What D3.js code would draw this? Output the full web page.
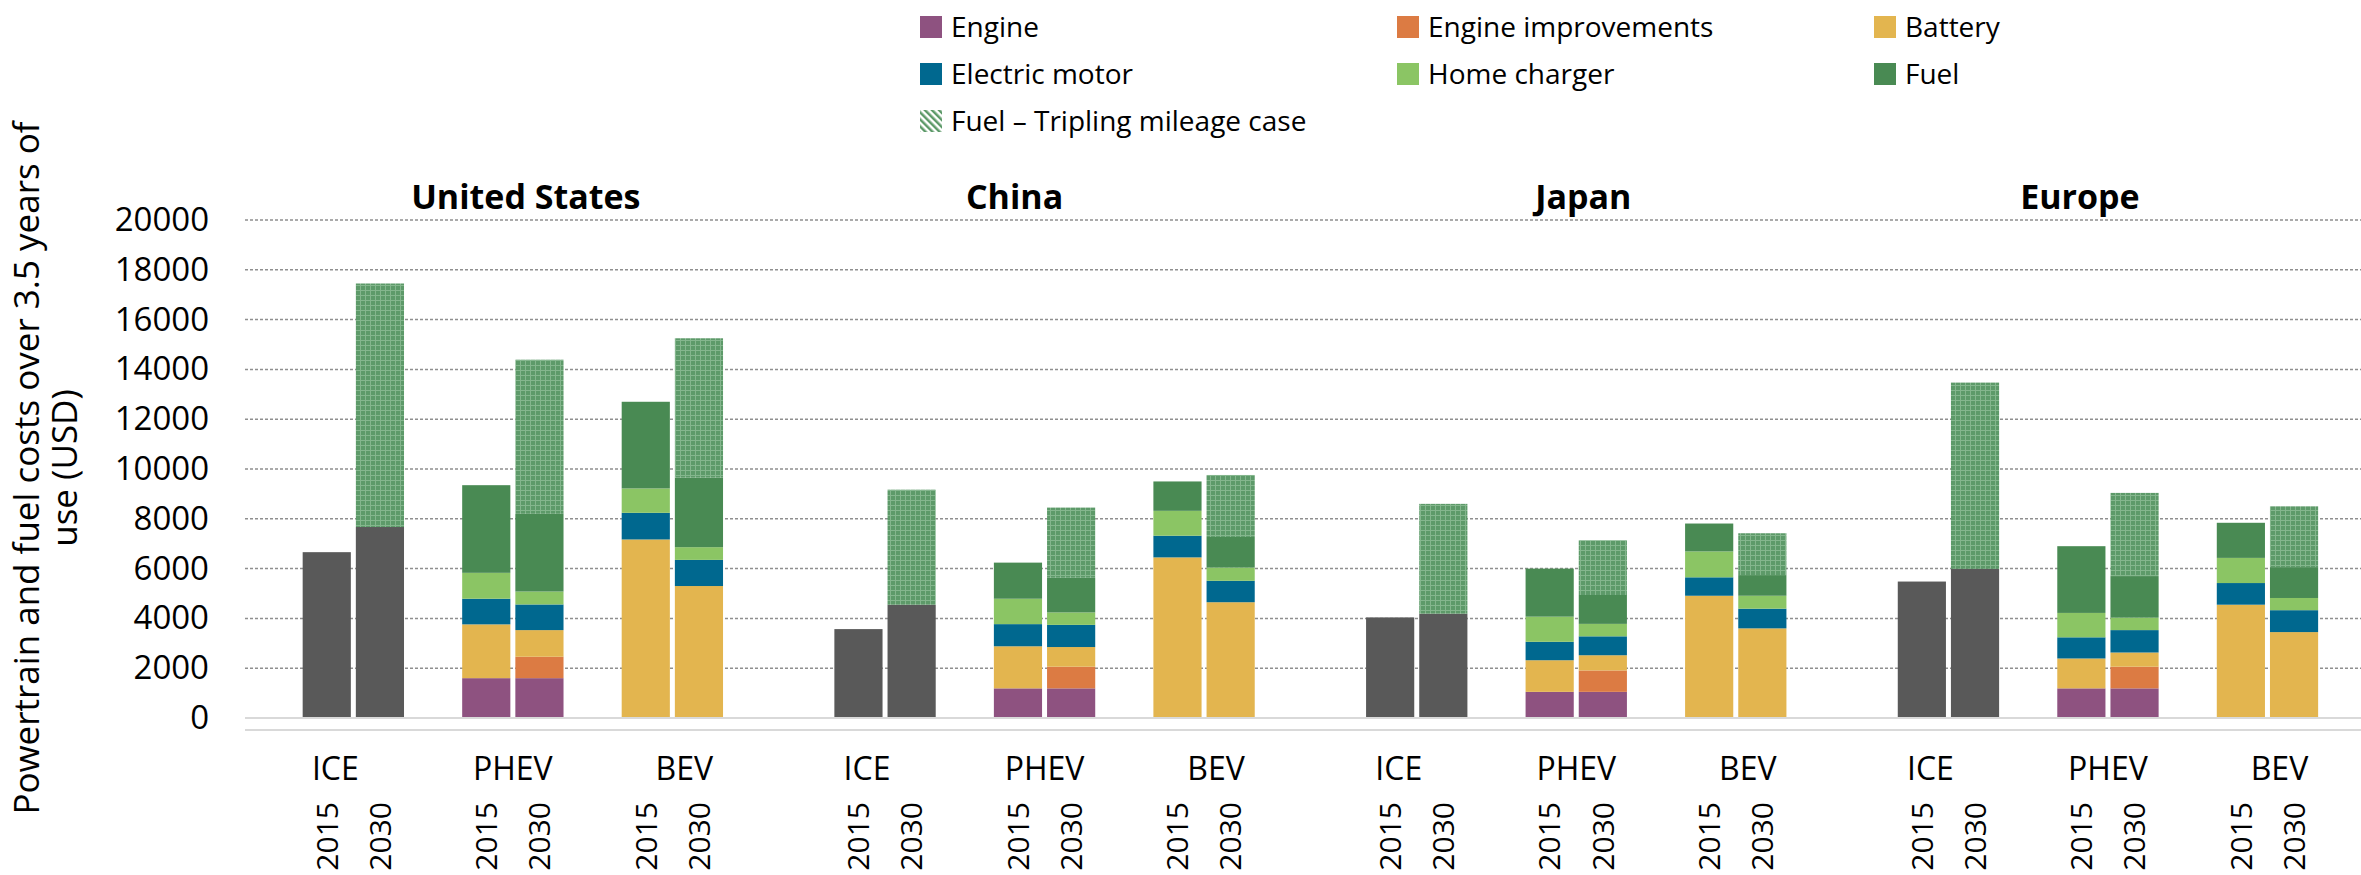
<!DOCTYPE html>
<html>
<head>
<meta charset="utf-8">
<script src="https://cdn.jsdelivr.net/npm/d3@7"></script>
<style>
  body { margin: 0; background: #fff; }
  text { font-family: "Open Sans", "DejaVu Sans", sans-serif; fill: #000; }
</style>
</head>
<body>
<svg id="svg1" width="2361" height="875"></svg>
<script>
// categories
var countries = ["United States", "China", "Japan", "Europe"];
var types = ["ICE", "PHEV", "BEV"];
var years = ["2015", "2030"];
var yTicks = [0, 2000, 4000, 6000, 8000, 10000, 12000, 14000, 16000, 18000, 20000];

// one value per bar, order: country > type > year (US ICE 2015, US ICE 2030, US PHEV 2015, ...)
var iceTotal =           [6660, 7670, 0, 0, 0, 0,   3570, 4550, 0, 0, 0, 0,   4040, 4190, 0, 0, 0, 0,   5480, 5990, 0, 0, 0, 0];
var engine =             [0, 0, 1600, 1600, 0, 0,   0, 0, 1190, 1190, 0, 0,   0, 0, 1050, 1050, 0, 0,   0, 0, 1190, 1190, 0, 0];
var engineImprovements = [0, 0, 0, 860, 0, 0,       0, 0, 0, 870, 0, 0,       0, 0, 0, 860, 0, 0,       0, 0, 0, 870, 0, 0];
var battery =            [0, 0, 2160, 1070, 7170, 5300,  0, 0, 1690, 790, 6450, 4650,  0, 0, 1270, 610, 4910, 3600,  0, 0, 1200, 570, 4550, 3450];
var electricMotor =      [0, 0, 1030, 1030, 1070, 1050,  0, 0, 890, 890, 870, 860,     0, 0, 740, 760, 740, 790,     0, 0, 850, 900, 870, 880];
var homeCharger =        [0, 0, 1040, 520, 980, 510,     0, 0, 1020, 500, 1000, 530,   0, 0, 1010, 500, 1040, 520,   0, 0, 980, 500, 1010, 490];
var fuel =               [0, 0, 3520, 3120, 3480, 2790,  0, 0, 1450, 1390, 1180, 1230, 0, 0, 1930, 1160, 1120, 830,  0, 0, 2680, 1670, 1410, 1240];
var fuelTripling =       [0, 9780, 0, 6190, 0, 5600,     0, 4620, 0, 2820, 0, 2490,    0, 4410, 0, 2200, 0, 1680,    0, 7480, 0, 3340, 0, 2440];

var series = [
  {key: "ice", label: null, values: iceTotal, color: "#595959"},
  {key: "engine", label: "Engine", values: engine, color: "#8e5280"},
  {key: "engineImprovements", label: "Engine improvements", values: engineImprovements, color: "#dc7b43"},
  {key: "battery", label: "Battery", values: battery, color: "#e3b54f"},
  {key: "electricMotor", label: "Electric motor", values: electricMotor, color: "#00688f"},
  {key: "homeCharger", label: "Home charger", values: homeCharger, color: "#8bc564"},
  {key: "fuel", label: "Fuel", values: fuel, color: "#498a53"},
  {key: "fuelTripling", label: "Fuel \u2013 Tripling mileage case", values: fuelTripling, color: "url(#gridFill)"}
];

var svg = d3.select("#svg1"),
    width = +svg.attr("width"),
    plotLeft = 245,
    y0 = 718, yTop = 220;

// patterns
var defs = svg.append("defs");
var pg = defs.append("pattern").attr("id", "gridFill").attr("patternUnits", "userSpaceOnUse")
    .attr("width", 5).attr("height", 5);
pg.append("rect").attr("width", 5).attr("height", 5).attr("fill", "#5d9a69");
pg.append("path").attr("d", "M0,0.5H5M0.5,0V5").attr("stroke", "#84b68d").attr("stroke-width", 1);
var pd = defs.append("pattern").attr("id", "diagFill").attr("patternUnits", "userSpaceOnUse")
    .attr("width", 5).attr("height", 5).attr("patternTransform", "rotate(-45)");
pd.append("rect").attr("width", 5).attr("height", 5).attr("fill", "#fff");
pd.append("rect").attr("width", 2.5).attr("height", 5).attr("fill", "#5d9a69");

// slots per country: gap, ICE pair, gap, PHEV pair, gap, BEV pair, gap
var slots = [], bars = [];
countries.forEach(function(c) {
  slots.push(c + "|g0");
  types.forEach(function(t, ti) {
    years.forEach(function(yr) {
      var id = c + "|" + t + "|" + yr;
      slots.push(id);
      bars.push({id: id, country: c, type: t, year: yr});
    });
    slots.push(c + "|g" + (ti + 1));
  });
});

bars.forEach(function(b, i) {
  series.forEach(function(s) { b[s.key] = s.values[i]; });
});

var x = d3.scaleBand().domain(slots).range([247, 247 + slots.length * 53.17]).paddingInner(0.094).paddingOuter(0.047);
var y = d3.scaleLinear().domain([0, 20000]).range([y0, yTop]);

// grid
svg.append("g").selectAll("line")
  .data(yTicks.filter(function(d) { return d > 0; }))
  .enter().append("line")
    .attr("x1", plotLeft).attr("x2", width)
    .attr("y1", function(d) { return y(d); }).attr("y2", function(d) { return y(d); })
    .attr("stroke", "#8f8f8f").attr("stroke-width", 1.5).attr("stroke-dasharray", "3,2");

// stacked bars
var stacked = d3.stack().keys(series.map(function(s) { return s.key; }))(bars);
var colorOf = {};
series.forEach(function(s) { colorOf[s.key] = s.color; });

svg.append("g").selectAll("g")
  .data(stacked)
  .enter().append("g")
    .attr("fill", function(d) { return colorOf[d.key]; })
  .selectAll("rect")
  .data(function(d) { return d.filter(function(p) { return p[1] - p[0] > 0; }); })
  .enter().append("rect")
    .attr("x", function(d) { return x(d.data.id); })
    .attr("width", x.bandwidth())
    .attr("y", function(d) { return y(d[1]); })
    .attr("height", function(d) { return y(d[0]) - y(d[1]); });

// baseline and category line
svg.append("line").attr("x1", plotLeft).attr("x2", width).attr("y1", y(0)).attr("y2", y(0))
  .attr("stroke", "#d9d9d9").attr("stroke-width", 2);
svg.append("line").attr("x1", plotLeft).attr("x2", width).attr("y1", y(0) + 12).attr("y2", y(0) + 12)
  .attr("stroke", "#d9d9d9").attr("stroke-width", 2);

// y axis labels
var yAxis = svg.append("g")
  .attr("transform", "translate(209,0)")
  .call(d3.axisLeft(y).tickValues(yTicks).tickSize(0).tickPadding(0).tickFormat(d3.format("d")));
yAxis.select(".domain").remove();
yAxis.selectAll("text").style("font-family", "'Open Sans', sans-serif").style("font-size", "33px").attr("fill", "#000");

// y axis title
var yt = svg.append("text")
  .attr("transform", "translate(39,468) rotate(-90)")
  .attr("text-anchor", "middle")
  .style("font-size", "35px");
yt.append("tspan").attr("x", 0).attr("dy", 0).text("Powertrain and fuel costs over 3.5 years of");
yt.append("tspan").attr("x", 0).attr("dy", 38).text("use (USD)");

// year labels
svg.append("g").selectAll("text")
  .data(bars)
  .enter().append("text")
    .attr("transform", function(d) { return "translate(" + (x(d.id) + x.bandwidth() / 2) + ",802) rotate(-90)"; })
    .attr("text-anchor", "end")
    .attr("dy", "0.36em")
    .style("font-size", "30px")
    .text(function(d) { return d.year; });

// type labels
var typeNudge = {ICE: -18, PHEV: 0, BEV: 12};
var typeGroups = [];
countries.forEach(function(c) { types.forEach(function(t) { typeGroups.push({country: c, type: t}); }); });
function pairCenter(c, t) {
  return (x(c + "|" + t + "|2015") + x(c + "|" + t + "|2030") + x.bandwidth()) / 2;
}
svg.append("g").selectAll("text")
  .data(typeGroups)
  .enter().append("text")
    .attr("x", function(d) { return pairCenter(d.country, d.type) + typeNudge[d.type]; })
    .attr("y", 780)
    .attr("text-anchor", "middle")
    .style("font-size", "32px")
    .text(function(d) { return d.type; });

// country titles
var titleNudge = [13, -30, 7, -28];
svg.append("g").selectAll("text")
  .data(countries)
  .enter().append("text")
    .attr("x", function(d, i) { return pairCenter(d, "PHEV") + titleNudge[i]; })
    .attr("y", 209)
    .attr("text-anchor", "middle")
    .style("font-size", "34px")
    .style("font-weight", "bold")
    .text(function(d) { return d; });

// legend
var legendItems = series.filter(function(s) { return s.label; });
var legend = svg.append("g").selectAll("g")
  .data(legendItems)
  .enter().append("g")
    .attr("transform", function(d, i) {
      return "translate(" + (920 + (i % 3) * 477) + "," + (27 + Math.floor(i / 3) * 47) + ")";
    });
legend.append("rect")
  .attr("x", 0).attr("y", -11).attr("width", 22).attr("height", 22)
  .attr("fill", function(d) { return d.key === "fuelTripling" ? "url(#diagFill)" : d.color; });
legend.append("text")
  .attr("x", 31).attr("dy", "0.36em")
  .style("font-size", "28px")
  .text(function(d) { return d.label; });
</script>
</body>
</html>
